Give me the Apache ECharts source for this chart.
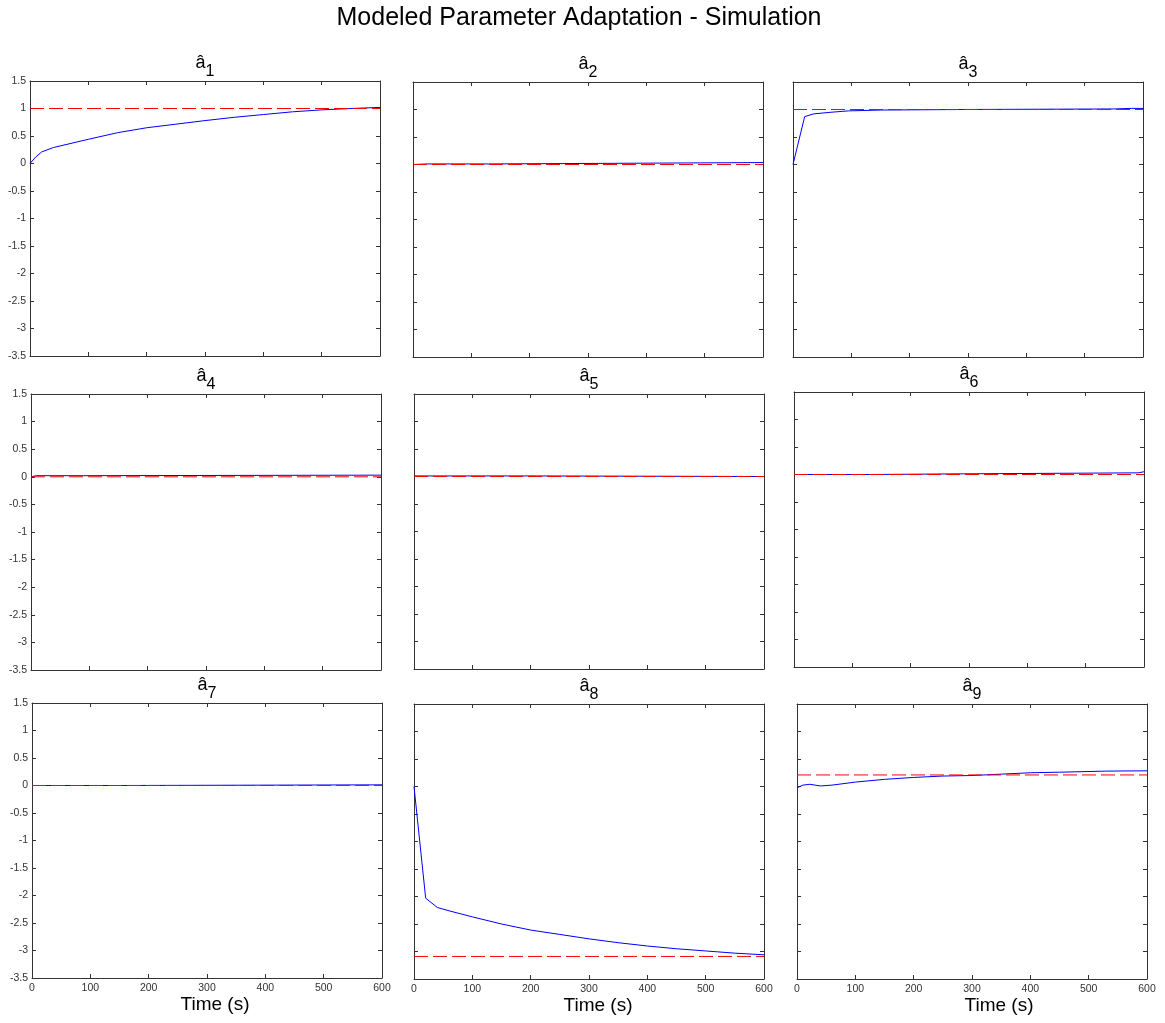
<!DOCTYPE html>
<html>
<head>
<meta charset="utf-8">
<script src="https://cdn.jsdelivr.net/npm/echarts@6/dist/echarts.min.js"></script>
<style>
html,body{margin:0;padding:0;background:#fff;}
#chart{width:1165px;height:1023px;}
</style>
</head>
<body>
<div id="chart"></div>
<script>
// ---------- data ----------
const mainTitle = 'Modeled Parameter Adaptation - Simulation';
const panelNames = ['1','2','3','4','5','6','7','8','9'];
const xTicks = [0, 100, 200, 300, 400, 500, 600];
const yTicks = [-3.5, -3, -2.5, -2, -1.5, -1, -0.5, 0, 0.5, 1, 1.5];
const trueValues = [1, 0, 1, 0, 0, 0, 0, -3.09, 0.21];

const a1T = [0, 10, 20, 40, 60, 100, 150, 200, 250, 300, 350, 400, 450, 500, 550, 600];
const a1V = [0, 0.12, 0.21, 0.29, 0.34, 0.44, 0.56, 0.65, 0.715, 0.78, 0.84, 0.89, 0.94, 0.975, 1.0, 1.02];

const a2T = [0, 25, 130, 132, 600];
const a2V = [0, 0.01, 0.01, 0.035, 0.035];

const a3T = [0, 20, 35, 65, 95, 150, 290, 550, 580, 600];
const a3V = [0, 0.87, 0.92, 0.95, 0.975, 0.99, 1.0, 1.01, 1.02, 1.02];

const a4T = [0, 9, 90, 92, 600];
const a4V = [0, 0.02, 0.02, 0.03, 0.03];

const a5T = [0, 210, 212, 600];
const a5V = [0.01, 0.01, 0, 0];

const a6T = [0, 130, 132, 290, 292, 590, 592, 600];
const a6V = [0, 0, 0.012, 0.012, 0.03, 0.03, 0.05, 0.05];

const a7T = [0, 150, 152, 600];
const a7V = [0, 0, 0.012, 0.012];

const a8T = [0, 20, 40, 60, 100, 150, 200, 250, 300, 350, 400, 450, 500, 550, 600];
const a8V = [0, -2.03, -2.2, -2.26, -2.37, -2.5, -2.61, -2.69, -2.77, -2.84, -2.9, -2.95, -2.99, -3.03, -3.06];

const a9T = [0, 10, 22, 40, 60, 100, 150, 200, 250, 300, 350, 400, 450, 530, 600];
const a9V = [-0.025, 0.025, 0.04, 0.01, 0.025, 0.08, 0.13, 0.165, 0.19, 0.2, 0.225, 0.25, 0.26, 0.28, 0.285];

const estT = [a1T, a2T, a3T, a4T, a5T, a6T, a7T, a8T, a9T];
const estV = [a1V, a2V, a3V, a4V, a5V, a6V, a7V, a8V, a9V];

// ---------- layout ----------
const grids = [
  {left: 30,  top: 81,  width: 350, height: 275},
  {left: 413, top: 82,  width: 350, height: 275},
  {left: 793, top: 82,  width: 350, height: 275},
  {left: 31,  top: 394, width: 350, height: 276},
  {left: 414, top: 394, width: 350, height: 275},
  {left: 794, top: 392, width: 350, height: 275},
  {left: 32,  top: 703, width: 350, height: 275},
  {left: 414, top: 704, width: 350, height: 275},
  {left: 797, top: 704, width: 350, height: 275}
];
const nameShift = [0, 0, 0, 0, 0, 0, 16, 18, 54];

const FONT = 'Liberation Sans, Arial, Helvetica, sans-serif';
const AX = '#333333';

const titles = [{
  text: mainTitle, left: 579, top: 6, textAlign: 'center', padding: 0,
  textStyle: {fontFamily: FONT, fontSize: 25, fontWeight: 'normal', color: '#000'}
}];
const xAxes = [], yAxes = [], series = [];

grids.forEach((g, i) => {
  const row = Math.floor(i / 3), col = i % 3;
  titles.push({
    text: '{a|â}{s|' + panelNames[i] + '}',
    left: g.left + g.width / 2, top: g.top - 35, textAlign: 'center', padding: 0,
    textStyle: {
      fontFamily: FONT, fontWeight: 'normal', color: '#000',
      rich: {
        a: {fontFamily: FONT, fontSize: 18, lineHeight: 34, color: '#000', verticalAlign: 'middle'},
        s: {fontFamily: FONT, fontSize: 16, lineHeight: 18, color: '#000', verticalAlign: 'bottom'}
      }
    }
  });
  const common = {
    gridIndex: i, type: 'value',
    axisLine: {show: true, onZero: false, lineStyle: {color: AX, width: 1}},
    axisTick: {show: true, inside: true, length: 4, lineStyle: {color: AX}},
    splitLine: {show: false}
  };
  xAxes.push(Object.assign({}, common, {
    position: 'bottom', min: xTicks[0], max: xTicks[xTicks.length - 1], interval: 100,
    axisLabel: {show: row === 2, margin: 5, fontFamily: FONT, fontSize: 10.5, color: AX},
    name: row === 2 ? 'Time (s)' : '', nameLocation: 'middle', nameGap: 17,
    nameTextStyle: {fontFamily: FONT, fontSize: 19, color: '#000', padding: [0, 0, 0, nameShift[i]]}
  }));
  xAxes.push(Object.assign({}, common, {
    position: 'top', min: xTicks[0], max: xTicks[xTicks.length - 1], interval: 100,
    axisLabel: {show: false}
  }));
  yAxes.push(Object.assign({}, common, {
    position: 'left', min: yTicks[0], max: yTicks[yTicks.length - 1], interval: 0.5,
    axisLabel: {show: col === 0, margin: 4, fontFamily: FONT, fontSize: 10.5, color: AX}
  }));
  yAxes.push(Object.assign({}, common, {
    position: 'right', min: yTicks[0], max: yTicks[yTicks.length - 1], interval: 0.5,
    axisLabel: {show: false}
  }));
  series.push({
    type: 'line', xAxisIndex: 2 * i, yAxisIndex: 2 * i,
    data: estT[i].map((t, k) => [t, estV[i][k]]),
    showSymbol: false, symbol: 'none', silent: true,
    lineStyle: {color: '#0000ff', width: 1}, z: 2
  });
  series.push({
    type: 'line', xAxisIndex: 2 * i, yAxisIndex: 2 * i,
    data: [[xTicks[0], trueValues[i]], [xTicks[xTicks.length - 1], trueValues[i]]],
    showSymbol: false, symbol: 'none', silent: true,
    lineStyle: {color: '#ff0000', width: 1, type: [14, 5]}, z: 3
  });
});

const chart = echarts.init(document.getElementById('chart'), null, {renderer: 'canvas'});
chart.setOption({
  animation: false,
  backgroundColor: '#ffffff',
  title: titles,
  grid: grids.map(g => Object.assign({show: false, containLabel: false}, g)),
  xAxis: xAxes,
  yAxis: yAxes,
  series: series
});
</script>
</body>
</html>
